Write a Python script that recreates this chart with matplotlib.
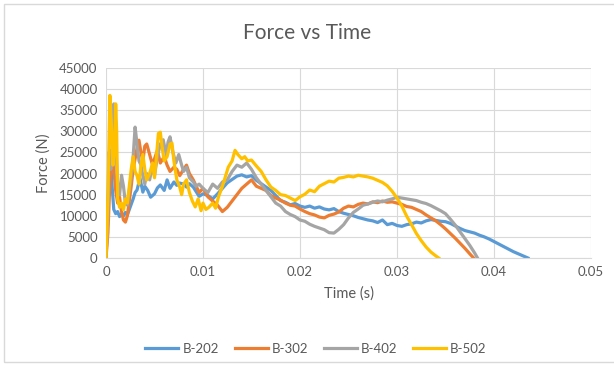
import numpy as np
import matplotlib.pyplot as plt
from matplotlib.patches import Rectangle

plt.rcParams['font.family'] = ['Lato', 'DejaVu Sans']

# B-202
t_202 = [0, 0.0002, 0.0004, 0.0006, 0.0008, 0.001, 0.0012, 0.0014, 0.0016, 0.0018,
         0.002, 0.0022, 0.0025, 0.0028, 0.003, 0.0032, 0.0035, 0.0038, 0.004, 0.0043,
         0.0046, 0.005, 0.0053, 0.0056, 0.006, 0.0063, 0.0066, 0.007, 0.0073, 0.0076,
         0.008, 0.0083, 0.0086, 0.009, 0.0093, 0.0096, 0.01, 0.0105, 0.011, 0.0115,
         0.012, 0.0125, 0.013, 0.0135, 0.014, 0.0145, 0.015, 0.0155, 0.016, 0.0165,
         0.017, 0.0175, 0.018, 0.0185, 0.019, 0.0195, 0.02, 0.0205, 0.021, 0.0215,
         0.022, 0.0225, 0.023, 0.0235, 0.024, 0.0245, 0.025, 0.0255, 0.026, 0.0265,
         0.027, 0.0275, 0.028, 0.0285, 0.029, 0.0295, 0.03, 0.0305, 0.031, 0.0315,
         0.032, 0.0325, 0.033, 0.0335, 0.034, 0.0345, 0.035, 0.0355, 0.036, 0.0365,
         0.037, 0.0375, 0.038, 0.0385, 0.039, 0.0395, 0.04, 0.0405, 0.041, 0.0415,
         0.042, 0.0425, 0.043, 0.0435]
f_202 = [0, 12000, 25500, 18000, 11500, 10500, 11000, 9800, 10400, 10000,
         10800, 10200, 12100, 14000, 15500, 16100, 18900, 15600, 17000, 16000,
         14400, 15200, 16600, 17300, 16000, 18500, 16500, 18000, 17200, 17750,
         17500, 16800, 17600, 16800, 15700, 14600, 15200, 14800, 14000, 15200,
         16500, 17800, 18600, 19400, 19700, 19200, 19500, 18400, 17600, 16800,
         16000, 14800, 13600, 13200, 12600, 12900, 12300, 12000, 12300, 11800,
         12100, 11600, 11400, 11700, 11000, 10600, 10300, 10000, 9600, 9300,
         9000, 8800, 8400, 9000, 7900, 8200, 7700, 7500, 7900, 8100,
         8500, 8300, 8800, 9100, 8900, 8700, 8600, 8200, 7600, 7000,
         6500, 6200, 5900, 5400, 5000, 4500, 3900, 3300, 2700, 2100,
         1500, 1000, 500, 0]

# B-302
t_302 = [0, 0.0002, 0.0004, 0.0006, 0.0008, 0.001, 0.0012, 0.0014, 0.0016, 0.0018,
         0.002, 0.0022, 0.0024, 0.0026, 0.0028, 0.003, 0.0032, 0.0034, 0.0036, 0.0038,
         0.004, 0.0042, 0.0045, 0.0048, 0.005, 0.0053, 0.0056, 0.006, 0.0063, 0.0066,
         0.007, 0.0073, 0.0076, 0.008, 0.0083, 0.0086, 0.009, 0.0093, 0.0096, 0.01,
         0.0105, 0.011, 0.0115, 0.012, 0.0125, 0.013, 0.0135, 0.014, 0.0145, 0.015,
         0.0155, 0.016, 0.0165, 0.017, 0.0175, 0.018, 0.0185, 0.019, 0.0195, 0.02,
         0.0205, 0.021, 0.0215, 0.022, 0.0225, 0.023, 0.0235, 0.024, 0.0245, 0.025,
         0.0255, 0.026, 0.0265, 0.027, 0.0275, 0.028, 0.0285, 0.029, 0.0295, 0.03,
         0.0305, 0.031, 0.0315, 0.032, 0.0325, 0.033, 0.0335, 0.034, 0.0345, 0.035,
         0.0355, 0.036, 0.0365, 0.037, 0.0375, 0.0379]
f_302 = [0, 6000, 18000, 24000, 21000, 16000, 13000, 14400, 11000, 9000,
         8500, 10000, 13500, 17000, 21000, 23500, 26000, 27900, 25000, 23000,
         26500, 27000, 24500, 22000, 23500, 25500, 22500, 24000, 22000, 20500,
         21500, 21000, 19500, 21000, 22000, 20000, 18500, 17000, 15500, 16500,
         14500, 13500, 12500, 11000, 12000, 13500, 15000, 16500, 17500, 18500,
         17000, 16500, 16000, 14800, 14200, 13700, 13000, 12500, 12300, 11600,
         11000, 10500, 10200, 9700, 9500, 10100, 10400, 10900, 11800, 12300,
         12100, 12700, 13000, 12800, 13300, 13100, 13500, 13200, 13300, 13000,
         12700, 12200, 12000, 11500, 11000, 10200, 9500, 8800, 7900, 6900,
         5800, 4700, 3500, 2300, 1000, 0]

# B-402
t_402 = [0, 0.0002, 0.0003, 0.0005, 0.0007, 0.0008, 0.001, 0.0012, 0.0014, 0.0016,
         0.0018, 0.002, 0.0022, 0.0024, 0.0026, 0.0028, 0.003, 0.0032, 0.0034, 0.0036,
         0.0038, 0.004, 0.0042, 0.0045, 0.0048, 0.005, 0.0053, 0.0056, 0.0059, 0.0062,
         0.0064, 0.0066, 0.0069, 0.0072, 0.0075, 0.0078, 0.008, 0.0083, 0.0086, 0.009,
         0.0093, 0.0096, 0.01, 0.0105, 0.011, 0.0115, 0.012, 0.0125, 0.013, 0.0135,
         0.014, 0.0145, 0.015, 0.0155, 0.016, 0.0165, 0.017, 0.0175, 0.018, 0.0185,
         0.019, 0.0195, 0.02, 0.0205, 0.021, 0.0215, 0.022, 0.0225, 0.023, 0.0235,
         0.024, 0.0245, 0.025, 0.0255, 0.026, 0.0265, 0.027, 0.0275, 0.028, 0.0285,
         0.029, 0.0295, 0.03, 0.0305, 0.031, 0.0315, 0.032, 0.0325, 0.033, 0.0335,
         0.034, 0.0345, 0.035, 0.0355, 0.036, 0.0365, 0.037, 0.0375, 0.038, 0.0383]
f_402 = [0, 10000, 25000, 21000, 30000, 36500, 27000, 17000, 15000, 19600,
         17000, 13000, 12500, 16000, 19000, 24000, 31000, 27000, 23000, 22000,
         19500, 17500, 20000, 18500, 22000, 19500, 24000, 27000, 28000, 24500,
         27500, 28700, 25000, 22500, 24500, 22000, 20500, 21500, 19000, 18000,
         17000, 17500, 16500, 15500, 17500, 16500, 18000, 18500, 20500, 22000,
         21500, 22500, 21000, 19000, 17500, 16000, 14500, 13000, 12300, 11000,
         10300, 9800, 9000, 8700, 8000, 7500, 7100, 6700, 6000, 5900,
         6800, 7900, 9500, 10800, 11600, 12500, 12800, 13200, 13500, 13300,
         13700, 14000, 14400, 14200, 14000, 13800, 13600, 13200, 12900, 12400,
         11800, 11200, 10500, 9200, 7800, 6200, 4600, 3000, 1200, 0]

# B-502
t_502 = [0, 0.0002, 0.0004, 0.0006, 0.0007, 0.0009, 0.001, 0.0011, 0.0012, 0.0014,
         0.0016, 0.0018, 0.002, 0.0022, 0.0024, 0.0026, 0.0028, 0.003, 0.0032, 0.0034,
         0.0036, 0.0038, 0.004, 0.0042, 0.0045, 0.0048, 0.005, 0.0052, 0.0054, 0.0056,
         0.0058, 0.006, 0.0063, 0.0066, 0.0068, 0.007, 0.0073, 0.0076, 0.0078, 0.008,
         0.0083, 0.0086, 0.0089, 0.0092, 0.0095, 0.0098, 0.01, 0.0103, 0.0106, 0.011,
         0.0113, 0.0116, 0.012, 0.0123, 0.0126, 0.013, 0.0133, 0.0136, 0.014, 0.0143,
         0.0146, 0.015, 0.0155, 0.016, 0.0165, 0.017, 0.0175, 0.018, 0.0185, 0.019,
         0.0195, 0.02, 0.0205, 0.021, 0.0215, 0.022, 0.0225, 0.023, 0.0235, 0.024,
         0.0245, 0.025, 0.0255, 0.026, 0.0265, 0.027, 0.0275, 0.028, 0.0285, 0.029,
         0.0295, 0.03, 0.0305, 0.031, 0.0315, 0.032, 0.0325, 0.033, 0.0335, 0.034,
         0.0343]
f_502 = [0, 15000, 38500, 30000, 22000, 26000, 36500, 30000, 14000, 12000,
         13000, 11400, 14000, 13000, 17000, 21000, 24000, 20500, 19500, 17500,
         22000, 24500, 21000, 18500, 20000, 22500, 19000, 24000, 29500, 29800,
         26000, 23000, 24000, 27000, 27200, 23000, 18500, 16800, 15000, 17500,
         18500, 15500, 13500, 12100, 14000, 11200, 13000, 11500, 12000, 13000,
         11800, 14500, 17000, 19200, 21500, 23000, 25500, 24500, 23500, 24000,
         23000, 23200, 21800, 20500, 18500, 16800, 16000, 15000, 14800, 14200,
         13600, 14500, 15100, 16100, 15700, 17000, 17600, 18200, 18000, 18900,
         19100, 19400, 19200, 19600, 19400, 19200, 18900, 18400, 17900, 17100,
         15800, 14200, 12300, 9900, 7900, 5800, 4100, 2600, 1400, 500,
         0]

labels = ['B-202', 'B-302', 'B-402', 'B-502']
colors = ['#5B9BD5', '#ED7D31', '#A5A5A5', '#FFC000']
x_ticks = [0, 0.01, 0.02, 0.03, 0.04, 0.05]
x_tick_labels = ['0', '0.01', '0.02', '0.03', '0.04', '0.05']
y_ticks = list(range(0, 45001, 5000))

fig = plt.figure(figsize=(6.14, 3.74), dpi=100)
ax = fig.add_axes([106 / 614, 116 / 374, 485 / 614, 190 / 374])

series = [(t_202, f_202), (t_302, f_302), (t_402, f_402), (t_502, f_502)]
for (t, f), lab, c in zip(series, labels, colors):
    ax.plot(t, f, color=c, lw=2.3, label=lab, solid_joinstyle='round')

ax.set_xlim(0, 0.05)
ax.set_ylim(0, 45000)
ax.set_xticks(x_ticks)
ax.set_xticklabels(x_tick_labels)
ax.set_yticks(y_ticks)
ax.set_yticklabels([str(v) for v in y_ticks])
ax.grid(True, color='#D9D9D9', lw=0.8)
ax.set_axisbelow(True)
for s in ['top', 'right', 'left']:
    ax.spines[s].set_visible(False)
ax.spines['bottom'].set_color('#D9D9D9')
ax.tick_params(length=0, labelsize=9.5, colors='#595959', pad=6)

ax.set_xlabel('Time (s)', fontsize=10.5, color='#595959', labelpad=6)
ax.set_ylabel('Force (N)', fontsize=10.5, color='#595959', labelpad=6)
fig.text(0.5, 1 - 33 / 374, 'Force vs Time', ha='center', va='center',
         fontsize=15, color='#595959')

fig.legend(loc='center', bbox_to_anchor=(316 / 614, 1 - 349 / 374), ncol=4,
           frameon=False, fontsize=9.5, labelcolor='#595959',
           handlelength=2.5, columnspacing=1.2, handletextpad=0.3)

fig.patches.append(Rectangle((4 / 614, 1 - 362 / 374), 1.2, 358 / 374,
                             transform=fig.transFigure, fill=False,
                             edgecolor='#D9D9D9', lw=1.0, clip_on=False))

fig.savefig('out.png', dpi=100)
